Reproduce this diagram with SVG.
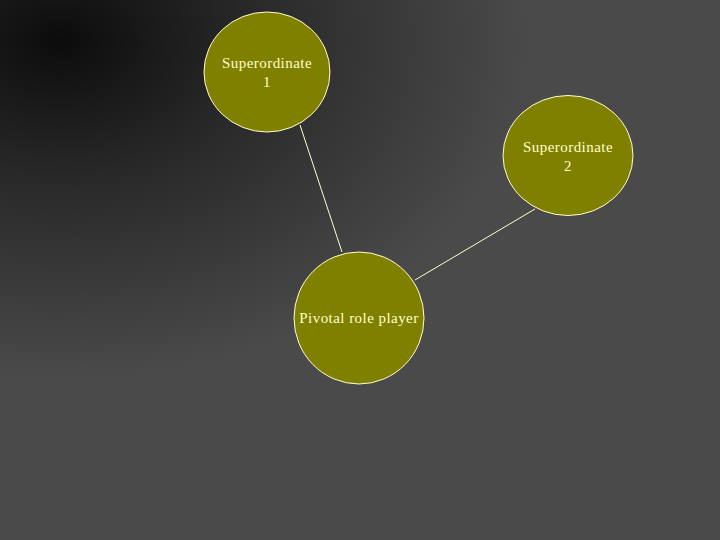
<svg xmlns="http://www.w3.org/2000/svg" width="720" height="540" viewBox="0 0 720 540">
<defs>
<radialGradient id="bg" gradientUnits="userSpaceOnUse" cx="0" cy="0" r="1" gradientTransform="translate(60 40) scale(470 340)">
<stop offset="0" stop-color="#0c0c0c"/>
<stop offset="0.4" stop-color="#282828"/>
<stop offset="0.7" stop-color="#393939"/>
<stop offset="1" stop-color="#4a4a4a"/>
</radialGradient>
<style>
.node{fill:#808000;stroke:#ffffcc;stroke-width:1}
.lbl{font-family:"Liberation Serif","DejaVu Serif",serif;font-size:15px;letter-spacing:0.45px;fill:#ffffcc;text-anchor:middle}
.conn{stroke:#ffffcc;stroke-width:1;fill:none}
</style>
</defs>
<rect width="720" height="540" fill="url(#bg)"/>
<g id="connectors">
<line class="conn" x1="300" y1="125" x2="342" y2="252"/>
<line class="conn" x1="535" y1="209" x2="415" y2="280"/>
</g>
<g id="superordinate1">
<ellipse class="node" cx="267" cy="72" rx="63" ry="60"/>
<text class="lbl" x="267" y="68">Superordinate</text>
<text class="lbl" x="267" y="87">1</text>
</g>
<g id="superordinate2">
<ellipse class="node" cx="568" cy="155.5" rx="65" ry="60"/>
<text class="lbl" x="568" y="152">Superordinate</text>
<text class="lbl" x="568" y="171">2</text>
</g>
<g id="pivotal">
<ellipse class="node" cx="359" cy="318" rx="65" ry="66"/>
<text class="lbl" x="359" y="323">Pivotal role player</text>
</g>
</svg>
